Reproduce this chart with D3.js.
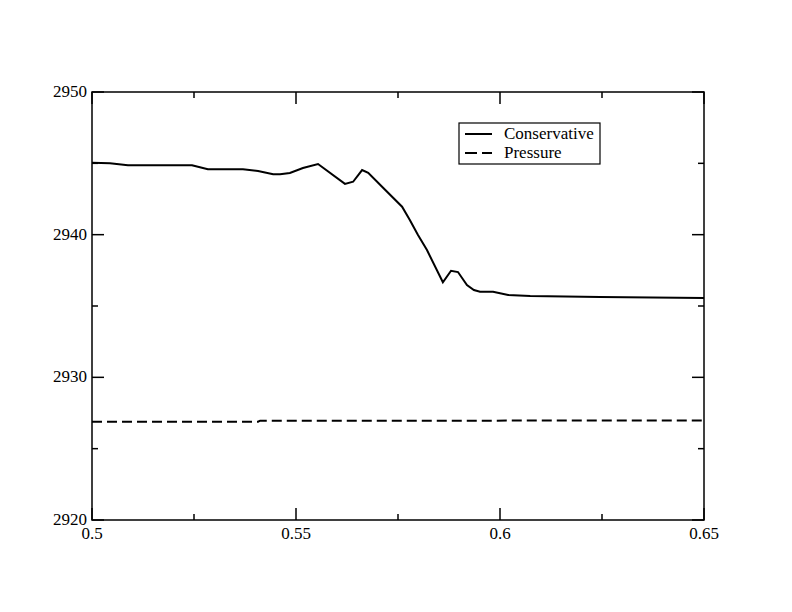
<!DOCTYPE html>
<html>
<head>
<meta charset="utf-8">
<script src="https://cdn.jsdelivr.net/npm/d3@7"></script>
<style>
  body { margin: 0; background: #fff; }
  text { font-family: "Liberation Serif", "Times New Roman", serif; font-size: 17px; fill: #000; }
</style>
</head>
<body>
<svg width="792" height="612"></svg>
<script>
// data
var conservX = [0.5, 0.5044, 0.5088, 0.5245, 0.5284, 0.5370, 0.5407, 0.5444, 0.5461, 0.5485,
                0.5517, 0.5554, 0.5620, 0.5640, 0.5662, 0.5677, 0.5711, 0.5760, 0.5779, 0.5799,
                0.5821, 0.5860, 0.5880, 0.5897, 0.5919, 0.5936, 0.5951, 0.5983, 0.6020, 0.6074,
                0.6245, 0.65];
var conservY = [2945.04, 2945.0, 2944.86, 2944.86, 2944.58, 2944.58, 2944.46, 2944.23, 2944.23, 2944.32,
                2944.67, 2944.95, 2943.56, 2943.71, 2944.53, 2944.34, 2943.36, 2941.96, 2941.03, 2939.98,
                2938.92, 2936.66, 2937.47, 2937.38, 2936.47, 2936.12, 2936.0, 2936.0, 2935.77, 2935.7,
                2935.63, 2935.56];
var pressX = [0.5, 0.5407, 0.5412, 0.65];
var pressY = [2926.89, 2926.89, 2926.96, 2926.97];

var xMajor = [0.5, 0.55, 0.6, 0.65], xMinor = [0.525, 0.575, 0.625];
var yMajor = [2920, 2930, 2940, 2950], yMinor = [2925, 2935, 2945];
var xLabels = ["0.5", "0.55", "0.6", "0.65"];
var seriesNames = ["Conservative", "Pressure"];

var svg = d3.select("svg");
var pLeft = 92, pRight = 704, pTop = 92, pBottom = 520;

var x = d3.scaleLinear().domain([0.5, 0.65]).range([pLeft, pRight]);
var y = d3.scaleLinear().domain([2920, 2950]).range([pBottom, pTop]);

// ticks on all four sides, pointing inward
var g = svg.append("g").attr("stroke", "#000").attr("stroke-width", 1.5);
function xticks(vals, len) {
    vals.forEach(function (v) {
        g.append("line").attr("x1", x(v)).attr("x2", x(v)).attr("y1", pBottom).attr("y2", pBottom - len);
        g.append("line").attr("x1", x(v)).attr("x2", x(v)).attr("y1", pTop).attr("y2", pTop + len);
    });
}
function yticks(vals, len) {
    vals.forEach(function (v) {
        g.append("line").attr("y1", y(v)).attr("y2", y(v)).attr("x1", pLeft).attr("x2", pLeft + len);
        g.append("line").attr("y1", y(v)).attr("y2", y(v)).attr("x1", pRight).attr("x2", pRight - len);
    });
}
xticks(xMajor, 12); xticks(xMinor, 6);
yticks(yMajor, 12); yticks(yMinor, 6);

g.append("rect")
    .attr("x", pLeft).attr("y", pTop)
    .attr("width", pRight - pLeft).attr("height", pBottom - pTop)
    .attr("fill", "none");

// tick labels
svg.selectAll(".xl").data(xMajor).enter().append("text")
    .attr("x", d => x(d)).attr("y", pBottom + 19)
    .attr("text-anchor", "middle")
    .text((d, i) => xLabels[i]);
svg.selectAll(".yl").data(yMajor).enter().append("text")
    .attr("x", pLeft - 5).attr("y", d => y(d) + 5)
    .attr("text-anchor", "end")
    .text(d => d);

// lines
var line = d3.line().x(d => x(d[0])).y(d => y(d[1]));
svg.append("path")
    .datum(d3.zip(conservX, conservY))
    .attr("d", line)
    .attr("fill", "none").attr("stroke", "#000").attr("stroke-width", 2);
svg.append("path")
    .datum(d3.zip(pressX, pressY))
    .attr("d", line)
    .attr("fill", "none").attr("stroke", "#000").attr("stroke-width", 2)
    .attr("stroke-dasharray", "10,5");

// legend
var lg = svg.append("g");
lg.append("rect").attr("x", 459).attr("y", 123).attr("width", 141).attr("height", 41)
    .attr("fill", "none").attr("stroke", "#000").attr("stroke-width", 1.2);
seriesNames.forEach(function (name, i) {
    var ly = 134 + i * 19;
    lg.append("line").attr("x1", 465).attr("x2", 492).attr("y1", ly).attr("y2", ly)
        .attr("stroke", "#000").attr("stroke-width", 2)
        .attr("stroke-dasharray", i == 1 ? "12,5" : null);
    lg.append("text").attr("x", 504).attr("y", ly + 5).text(name);
});
</script>
</body>
</html>
